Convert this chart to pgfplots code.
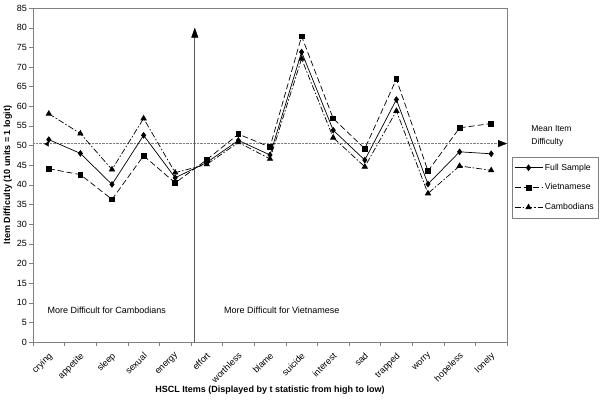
\documentclass[border=0pt]{standalone}
\usepackage{pgfplots}
\pgfplotsset{compat=1.18}
\usepackage{fontspec}
\setmainfont{Liberation Sans}
\usetikzlibrary{arrows.meta}
\begin{document}
\begin{tikzpicture}
\path[use as bounding box] (-33pt,-58pt) rectangle (573pt,342pt);
\begin{axis}[
  scale only axis, width=474pt, height=334pt,
  at={(0pt,0pt)}, anchor=south west,
  clip=false,
  xmin=-0.5, xmax=14.5, ymin=0, ymax=85,
  ytick={0,5,...,85},
  xtick={-0.5,0.5,...,14.5},
  x tick label as interval,
  xticklabels={crying,appetite,sleep,sexual,energy,effort,worthless,blame,suicide,interest,sad,trapped,worry,hopeless,lonely},
  tick align=outside, major tick length=4pt,
  xtick pos=bottom, ytick pos=left,
  axis line style={gray},
  tick style={gray},
  /pgf/number format/assume math mode=true,
  ticklabel style={font=\fontsize{9}{10}\selectfont},
  xticklabel style={rotate=45, anchor=north east, inner sep=0.5pt, xshift=-4pt, yshift=-3pt},
  yticklabel style={inner sep=2pt},
  xlabel={\textbf{HSCL Items (Displayed by t statistic from high to low)}},
  ylabel={\textbf{Item Difficulty (10 units = 1 logit)}},
  label style={font=\fontsize{9}{10}\selectfont},
  xlabel style={at={(axis description cs:0.5,-0.144)}, anchor=center},
  ylabel style={at={(axis description cs:-0.053,0.5)}, anchor=center},
  legend style={at={(rel axis cs:1.0105,0.555)}, anchor=north west, draw=gray,
    font=\fontsize{8.7}{10}\selectfont, row sep=8pt, inner sep=3pt, inner xsep=2pt, inner ysep=5pt},
  legend cell align=left,
  legend image code/.code={\draw[mark repeat=2,mark phase=2] plot coordinates {(0pt,0pt)(14pt,0pt)(28pt,0pt)};},
]
% mean line
\addplot[gray, densely dotted, forget plot, -{Triangle[black,length=9pt,width=7pt]}] coordinates {(-0.5,50.5)(14.5,50.5)};
\addplot[only marks, black, mark=triangle*, mark size=2.6pt, mark options={rotate=90}, forget plot] coordinates {(-0.05,50.4)};
% vertical arrow
\draw[black!65, line width=0.7pt, -{Triangle[black,length=10pt,width=7pt]}] (axis cs:4.62,0) -- (axis cs:4.62,80);

\addplot[black, solid, line width=0.7pt, mark=diamond*, mark size=2.8pt] coordinates {
(0,51.5)(1,48.0)(2,40.1)(3,52.6)(4,41.8)(5,45.7)(6,51.3)(7,47.6)(8,73.8)(9,53.9)(10,46.3)(11,61.7)(12,40.2)(13,48.4)(14,47.9)};
\addlegendentry{Full Sample}
\addplot[black, line width=0.7pt, dash pattern=on 6pt off 3pt, mark=square*, mark size=2.4pt, mark options={solid}] coordinates {
(0,44.1)(1,42.6)(2,36.3)(3,47.4)(4,40.5)(5,46.4)(6,52.9)(7,49.6)(8,77.8)(9,56.9)(10,49.2)(11,66.9)(12,43.5)(13,54.5)(14,55.6)};
\addlegendentry{Vietnamese}
\addplot[black, line width=0.7pt, dash pattern=on 6pt off 2pt on 1.5pt off 2pt, mark=triangle*, mark size=3pt, mark options={solid}] coordinates {
(0,58.1)(1,53.05)(2,43.9)(3,56.9)(4,43.1)(5,45.2)(6,50.8)(7,46.6)(8,72.1)(9,52.0)(10,44.6)(11,58.8)(12,37.8)(13,44.8)(14,43.7)};
\addlegendentry{Cambodians}

\node[anchor=west, font=\fontsize{9}{10}\selectfont] at (axis cs:-0.15,8) {More Difficult for Cambodians};
\node[anchor=west, font=\fontsize{9}{10}\selectfont] at (axis cs:5.44,8) {More Difficult for Vietnamese};
\node[anchor=west, align=left, font=\fontsize{8.5}{13}\selectfont] at (rel axis cs:1.044,0.617) {Mean Item\\Difficulty};
\end{axis}
\end{tikzpicture}
\end{document}
